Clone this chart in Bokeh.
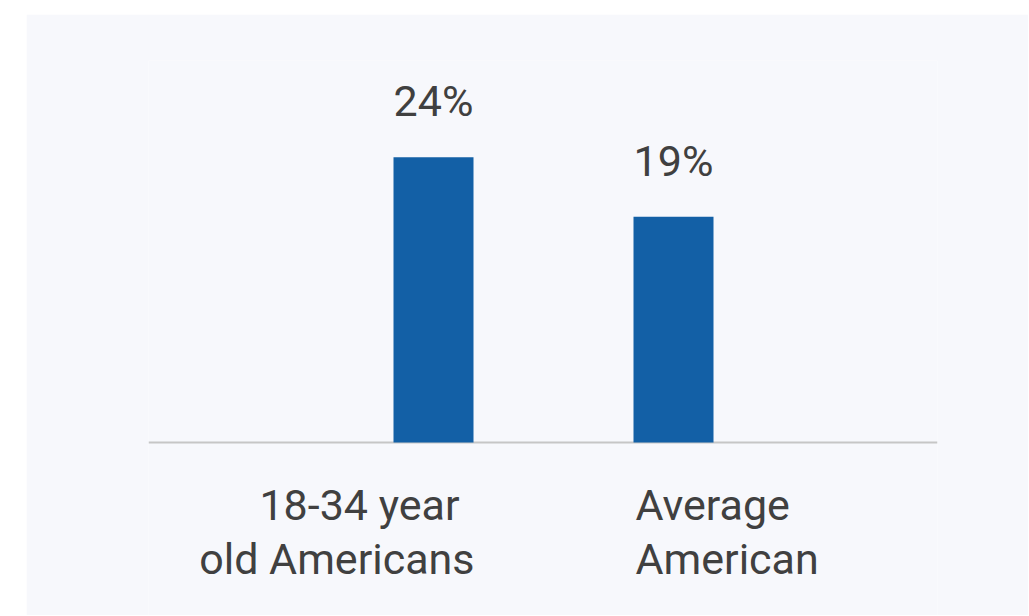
from bokeh.plotting import figure
from bokeh.models import ColumnDataSource, Range1d, Span
from bokeh.core.properties import value
from bokeh.embed import file_html
from bokeh.resources import INLINE

# ---- data ----
categories_line1 = ["18-34 year", "Average"]
categories_line2 = ["old Americans", "American"]
values = [24, 19]
value_labels = ["24%", "19%"]

PANEL = "#f7f8fc"
BAR = "#1360a6"
TEXT = "#404040"
FONT = value("Roboto")

xs = list(range(len(values)))

p = figure(width=1002, height=601, output_backend="svg", toolbar_location=None,
           x_range=Range1d(-1.1875, 2.1), y_range=Range1d(-14.555, 32.14),
           min_border_left=122, min_border_right=91, min_border_top=46, min_border_bottom=0)
p.margin = (14, 0, 0, 26)
p.background_fill_color = PANEL
p.border_fill_color = PANEL
p.outline_line_color = None
p.grid.visible = False
p.axis.visible = False

p.add_layout(Span(location=0, dimension="width", line_color="#c6c6c6",
                  line_width=2, level="underlay"))

src = ColumnDataSource(dict(x=xs, top=values, lab=value_labels,
                            l1=categories_line1, l2=categories_line2,
                            align=["right", "left"],
                            off1=[26, -38], off2=[41, -38]))

p.vbar(x="x", top="top", bottom=0, width=1/3, source=src,
       fill_color=BAR, line_color=None)

p.text(x="x", y="top", text="lab", source=src, text_align="center",
       text_baseline="alphabetic", y_offset=-56, text_font=FONT,
       text_font_size="43px", text_color=TEXT)

p.text(x="x", y=0, text="l1", source=src, text_align="align",
       text_baseline="alphabetic", x_offset="off1", y_offset=62, text_font=FONT,
       text_font_size="43px", text_color=TEXT)
p.text(x="x", y=0, text="l2", source=src, text_align="align",
       text_baseline="alphabetic", x_offset="off2", y_offset=116, text_font=FONT,
       text_font_size="43px", text_color=TEXT)

open("out.html", "w").write(file_html(p, INLINE))
